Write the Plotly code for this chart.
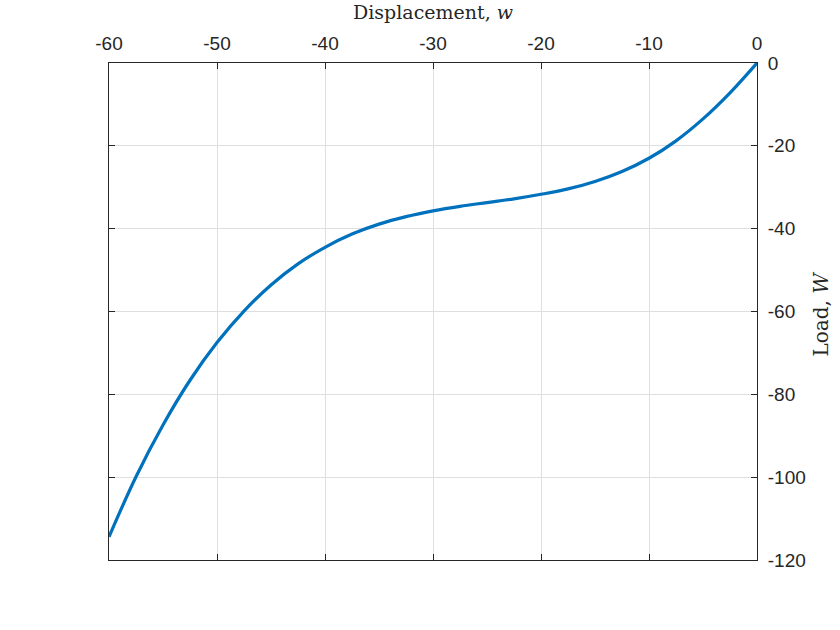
import plotly.graph_objects as go

# Values
displacement = [-60, -57.5, -55, -52.5, -50, -47.5, -45, -42.5, -40, -37.5, -35, -32.5,
                -30, -27.5, -25, -22.5, -20, -17.5, -15, -12.5, -10, -7.5, -5, -2.5, 0]
load = [-114.4, -99.9, -87.4, -76.6, -67.5, -59.9, -53.6, -48.5, -44.5, -41.3, -38.9, -37.1,
        -35.7, -34.6, -33.7, -32.8, -31.7, -30.4, -28.6, -26.2, -23.0, -18.8, -13.5, -7.2, 0.0]

x_ticks = [-60, -50, -40, -30, -20, -10, 0]
y_ticks = [-120, -100, -80, -60, -40, -20, 0]
x_title = "Displacement, <i>w</i>"
y_title = "Load, <i>W</i>"

fig = go.Figure()
fig.add_trace(go.Scatter(x=displacement, y=load, mode="lines",
                         line=dict(color="#0072BD", width=3.2, shape="spline", smoothing=1.0),
                         showlegend=False, hoverinfo="x+y"))

tick_font = dict(family="Liberation Sans, Arial, sans-serif", size=19, color="#262626")
x_title_font = dict(family="DejaVu Serif, Liberation Serif, serif", size=19, color="#262626")
y_title_font = dict(family="DejaVu Serif, Liberation Serif, serif", size=20, color="#262626")

axis_common = dict(ticks="inside", ticklen=6, tickcolor="#262626", mirror="ticks",
                   showline=True, linecolor="#262626", linewidth=1,
                   showgrid=True, gridcolor="#dfdfdf", gridwidth=1, zeroline=False,
                   tickfont=tick_font)

fig.update_layout(
    width=840, height=630,
    margin=dict(l=109, r=83, t=63, b=70),
    paper_bgcolor="white", plot_bgcolor="white",
    xaxis=dict(side="top", range=[-60, 0], tickvals=x_ticks,
               ticktext=[str(v) for v in x_ticks], ticklabelstandoff=4, **axis_common),
    yaxis=dict(side="right", range=[-120, 0], tickvals=y_ticks,
               ticktext=[str(v) for v in y_ticks], ticklabelstandoff=6, **axis_common),
    annotations=[
        dict(text=x_title, xref="paper", yref="paper", x=0.5, y=1, yshift=51,
             xanchor="center", yanchor="middle", showarrow=False, font=x_title_font),
        dict(text=y_title, xref="paper", yref="paper", x=1, y=0.5, xshift=63, yshift=-3,
             xanchor="center", yanchor="middle", textangle=-90, showarrow=False, font=y_title_font),
    ],
)

fig.write_html("out.html", config={"displayModeBar": False},
               post_script="document.body.style.margin='0';")
